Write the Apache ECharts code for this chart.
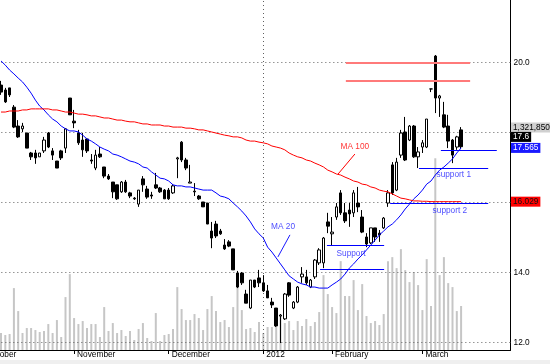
<!DOCTYPE html>
<html><head><meta charset="utf-8">
<script src="https://cdn.jsdelivr.net/npm/echarts@6/dist/echarts.min.js"></script>
<style>html,body{margin:0;padding:0;background:#fff}#c{width:550px;height:364px}</style>
</head><body><div id="c"></div>
<script>
// ---- data ----
// candles: [open, close, low, high]
const ohlc = [
[19.36,19.16,19.08,19.48],[19.22,18.88,18.85,19.28],[19.28,19.08,19.02,19.28],[18.73,18.16,18.13,18.79],[18.19,17.88,17.85,18.36],
[18.11,18.19,18.02,18.28],[17.99,17.56,17.56,17.99],[17.42,17.31,17.22,17.45],[17.42,17.28,17.11,17.51],[17.31,17.42,17.31,17.42],
[17.48,17.79,17.42,17.88],[17.99,17.59,17.56,18.02],[17.48,17.36,17.22,17.56],[17.19,16.99,16.99,17.19],[17.48,17.28,17.22,17.51],
[17.56,18.11,17.42,18.13],[18.99,18.51,18.51,18.99],[18.33,18.28,18.13,18.65],[17.99,17.71,17.65,18.08],[17.79,17.51,17.31,17.99],
[17.82,17.48,17.42,17.85],[17.22,17.19,17.11,17.39],[16.99,17.36,16.93,17.51],[17.39,17.31,17.28,17.59],[17.02,16.76,16.70,17.02],
[16.76,16.68,16.65,16.82],[16.59,16.31,16.13,16.59],[16.51,16.11,16.08,16.51],[16.31,16.59,16.28,16.62],[16.59,16.31,16.28,16.65],
[16.28,16.19,16.13,16.31],[16.13,16.11,16.08,16.16],[15.96,16.36,15.88,16.36],[16.68,16.51,16.31,16.76],[16.39,16.16,16.11,16.48],
[16.22,16.19,16.11,16.31],[16.51,16.42,16.39,16.85],[16.42,16.31,16.28,16.45],[16.36,16.11,16.11,16.39],[16.36,16.11,16.08,16.42],
[16.28,16.48,16.25,16.53],[17.25,17.28,16.70,17.31],[17.73,17.22,17.16,17.76],[17.22,16.99,16.93,17.28],[16.56,16.59,16.56,17.08],
[16.33,16.31,16.19,16.56],[16.19,16.11,16.08,16.22],[16.02,15.88,15.88,16.02],[15.99,15.39,15.39,15.99],[15.19,14.99,14.70,15.45],
[15.39,15.05,14.99,15.48],[15.19,15.11,15.08,15.25],[14.79,14.68,14.65,14.96],[14.88,14.76,14.73,14.93],[14.68,14.08,14.08,14.68],
[13.99,13.59,13.56,14.05],[13.99,13.71,13.65,14.02],[13.39,13.13,13.13,13.51],[12.99,13.79,12.96,13.79],[13.79,13.59,13.56,13.79],
[13.85,13.71,13.59,14.08],[13.71,13.48,13.45,13.93],[13.48,13.28,13.28,13.65],[13.16,13.08,12.99,13.28],[12.99,12.48,12.45,12.99],
[12.76,12.79,11.99,12.82],[12.68,13.39,12.65,13.42],[13.71,13.36,13.31,13.73],[12.99,13.16,12.96,13.19],[13.16,13.59,13.13,13.62],
[13.88,13.96,13.71,14.16],[13.88,13.71,13.65,14.08],[13.59,13.79,13.56,13.82],[13.88,14.36,13.82,14.39],[14.28,14.65,14.22,14.70],
[14.28,14.99,14.13,15.02],[15.45,15.33,15.13,15.71],[15.11,15.16,14.79,15.59],[15.59,15.88,15.51,15.99],[16.28,15.71,15.65,16.36],
[15.71,15.48,15.42,15.99],[15.79,15.68,15.31,15.99],[15.71,16.28,15.59,16.36],[15.99,15.88,15.73,16.45],[15.59,15.16,15.13,15.79],
[15.02,14.82,14.73,15.13],[14.85,15.28,14.82,15.28],[15.28,15.02,14.88,15.28],[15.13,15.08,14.88,15.22],[15.28,15.56,15.25,15.59],
[15.99,16.28,15.88,16.36],[17.08,16.28,16.22,17.16],[16.36,17.16,16.33,17.28],[17.36,17.99,17.28,18.08],[18.02,17.22,17.19,18.45],
[17.79,18.19,17.76,18.22],[18.19,17.31,17.28,18.22],[17.31,17.45,16.99,17.59],[17.59,17.71,17.42,17.79],[17.59,18.39,17.56,18.39],
[19.25,19.25,19.16,19.25],[20.19,18.99,18.56,20.22],[18.99,19.05,18.45,19.08],[18.51,18.16,18.13,18.88],[18.19,17.76,17.56,18.51],
[17.79,17.36,17.13,17.82],[17.59,17.88,17.51,17.91],[18.08,17.60,17.53,18.16]
];
// volume, thousands of shares
const volume = [
510,450,480,1860,1170,510,660,660,600,540,
570,780,510,900,390,1590,2280,960,780,870,
660,780,780,390,1290,570,810,510,600,420,
570,300,630,810,360,270,1110,270,450,480,
630,1890,1230,900,900,1080,960,600,1230,1620,
1170,840,900,690,1290,1890,1200,630,660,540,
840,510,690,690,870,1050,810,870,600,870,
720,930,720,840,1140,2250,1680,1290,1110,2670,
1620,1620,2100,1200,1980,1020,810,870,750,1080,
2670,2790,2460,3030,2400,2040,2340,1950,1200,2730,
1320,5760,2250,2790,2010,1890,1170,1321.85
];
const ma20 = [
20.05,19.93,19.79,19.68,19.56,19.45,19.30,19.13,18.93,18.76,
18.65,18.51,18.39,18.31,18.19,18.11,18.05,18.05,18.02,17.93,
17.82,17.76,17.68,17.59,17.53,17.48,17.39,17.36,17.31,17.25,
17.19,17.16,17.11,17.02,16.99,16.88,16.79,16.70,16.68,16.62,
16.51,16.48,16.48,16.45,16.45,16.42,16.39,16.36,16.36,16.36,
16.28,16.19,16.16,16.11,15.99,15.88,15.76,15.62,15.45,15.25,
15.11,14.99,14.73,14.59,14.42,14.25,14.08,13.91,13.82,13.73,
13.68,13.65,13.59,13.59,13.56,13.56,13.56,13.65,13.73,13.82,
13.96,14.13,14.25,14.39,14.51,14.65,14.79,14.93,15.08,15.19,
15.31,15.39,15.51,15.65,15.82,15.96,16.11,16.22,16.36,16.53,
16.62,16.79,16.93,17.02,17.13,17.25,17.42,17.565
];
const ma100 = [
18.59,18.59,18.62,18.62,18.62,18.65,18.65,18.68,18.68,18.68,
18.68,18.68,18.65,18.65,18.62,18.59,18.59,18.56,18.53,18.53,
18.51,18.48,18.48,18.45,18.42,18.42,18.39,18.36,18.36,18.33,
18.31,18.31,18.28,18.25,18.25,18.22,18.22,18.22,18.19,18.19,
18.16,18.16,18.16,18.13,18.13,18.11,18.08,18.08,18.05,18.02,
17.99,17.96,17.93,17.91,17.88,17.88,17.85,17.79,17.76,17.76,
17.73,17.71,17.68,17.62,17.59,17.56,17.51,17.42,17.36,17.31,
17.28,17.22,17.19,17.13,17.08,17.02,16.93,16.88,16.82,16.79,
16.73,16.68,16.62,16.59,16.53,16.51,16.45,16.42,16.36,16.33,
16.31,16.25,16.19,16.13,16.11,16.08,16.05,16.05,16.04,16.04,
16.03,16.03,16.03,16.03,16.03,16.03,16.03,16.029
];
// month labels and the candle index where each month starts
const monthNames = ['October','November','December','2012','February','March'];
const monthStart = [-4, 17, 39, 61, 77, 98];
const priceTickLabels = [12, 14, 20];
const priceGridLevels = [12, 14, 16, 18, 20];
const yearLineIndex = 61;
// annotation lines: [fromIndex, toIndex, price]
const resistanceLines = [[80.2, 109.1, 20.0], [80.2, 109.1, 19.485]];
const supportLines = [[75.8, 89.1, 14.79], [74.2, 89.1, 14.105], [102.3, 115.3, 17.505], [97.2, 113.3, 16.99], [90.5, 113.3, 15.99]];
// text notes: [text, index, price]
const blueNotes = [['MA 20', 65.6, 15.30], ['Support', 81.4, 14.53], ['support 1', 105.3, 16.79], ['support 2', 104.4, 15.76]];
const redNotes = [['MA 100', 82.3, 17.59]];
// pointer lines: [x1, p1, x2, p2]
const blueCallouts = [[67.2, 15.08, 64.4, 14.45]];
const redCallouts = [[82.3, 17.39, 78.4, 16.82]];

// ---- layout ----
const LEAD = 5, TRAIL = 11, STEP = 4.3;
const N = LEAD + ohlc.length + TRAIL;
const FONT = '"Liberation Sans", Arial, Helvetica, sans-serif';
const FS = 8.3;
const BLUE = '#1a1aff', RED = '#ff0000';

const cats = Array.from({length: N}, (_, k) => 'd' + k);
const monthAt = {};
monthStart.forEach((s, j) => { monthAt[s + LEAD] = monthNames[j]; });
const pad = arr => Array(LEAD).fill('-').concat(arr, Array(TRAIL).fill('-'));

const seg = (x1, y1, x2, y2, style) => [{coord: [x1, y1], lineStyle: style}, {coord: [x2, y2]}];
const noteLines = [];
resistanceLines.forEach(r => noteLines.push(seg(r[0], r[2], r[1], r[2], {color: '#ff7a7a', width: 2, type: 'solid'})));
supportLines.forEach(r => noteLines.push(seg(r[0], r[2], r[1], r[2], {color: '#0000ff', width: 1, type: 'solid'})));
blueCallouts.forEach(c => noteLines.push(seg(c[0], c[1], c[2], c[3], {color: BLUE, width: 1, type: 'solid'})));
redCallouts.forEach(c => noteLines.push(seg(c[0], c[1], c[2], c[3], {color: RED, width: 1, type: 'solid'})));

const notePts = blueNotes.map(n => ({name: n[0], value: [n[1], n[2]], label: {color: BLUE}}))
  .concat(redNotes.map(n => ({name: n[0], value: [n[1], n[2]], label: {color: RED}})));

const dotted = {color: '#606060', width: 1, type: [1, 3]};
const gridMarks = priceGridLevels.map(v => ({yAxis: v}));
gridMarks.push({xAxis: 'd' + (yearLineIndex + LEAD)});

const option = {
  animation: false,
  backgroundColor: '#fff',
  grid: {left: 1 - STEP * (LEAD + 0.5), top: 0, width: N * STEP, height: 350, containLabel: false, outerBoundsMode: 'none'},
  xAxis: [{
    type: 'category', data: cats, boundaryGap: true,
    axisLine: {show: true, onZero: false, lineStyle: {color: '#000', width: 1}},
    axisTick: {show: true, alignWithLabel: true, length: 4, interval: (i) => monthAt[i] !== undefined, lineStyle: {color: '#000'}},
    axisLabel: {show: true, interval: (i) => monthAt[i] !== undefined, formatter: (v, i) => monthAt[i] || '',
      align: 'left', padding: [0, 0, 0, 3], margin: 1, fontSize: FS, fontFamily: FONT, color: '#000'},
    splitLine: {show: false}
  }, {
    type: 'value', min: -LEAD - 0.5, max: N - LEAD - 0.5, show: false,
    axisLine: {onZero: false}
  }],
  yAxis: [{
    type: 'value', position: 'right', min: 11.791, max: 21.791, scale: true,
    axisLine: {show: true, onZero: false, lineStyle: {color: '#000', width: 1}},
    axisTick: {show: false},
    axisLabel: {show: true, customValues: priceTickLabels, formatter: v => v.toFixed(1), margin: 3, fontSize: FS, fontFamily: FONT, color: '#000'},
    splitLine: {show: false}
  }, {
    type: 'value', min: 0, max: 10515, show: false,
    axisLine: {onZero: false}
  }],
  series: [{
    name: 'volume', type: 'bar', xAxisIndex: 0, yAxisIndex: 1, data: pad(volume),
    barWidth: 2, itemStyle: {color: '#c6c6c6'}, z: 1, silent: true
  }, {
    name: 'price', type: 'candlestick', xAxisIndex: 0, yAxisIndex: 0,
    data: ohlc.map((d, i) => ['d' + (i + LEAD), d[0], d[1], d[2], d[3]]),
    encode: {x: 0, y: [1, 2, 3, 4]},
    barWidth: 3,
    itemStyle: {color: '#fff', color0: '#000', borderColor: '#000', borderColor0: '#000', borderWidth: 1},
    z: 3,
    markLine: {silent: true, symbol: ['none', 'none'], label: {show: false}, lineStyle: dotted, data: gridMarks, z: 2}
  }, {
    name: 'MA 20', type: 'line', xAxisIndex: 0, yAxisIndex: 0, data: pad(ma20),
    showSymbol: false, symbol: 'none', lineStyle: {color: '#0000ff', width: 1}, z: 4, silent: true
  }, {
    name: 'MA 100', type: 'line', xAxisIndex: 0, yAxisIndex: 0, data: pad(ma100),
    showSymbol: false, symbol: 'none', lineStyle: {color: RED, width: 1}, z: 4, silent: true
  }, {
    name: 'notes', type: 'scatter', xAxisIndex: 1, yAxisIndex: 0, data: notePts,
    symbolSize: 0, z: 5, silent: true,
    label: {show: true, position: 'inside', formatter: '{b}', fontSize: FS, fontFamily: FONT},
    markLine: {silent: true, symbol: ['none', 'none'], label: {show: false}, data: noteLines, z: 5}
  }]
};

const chart = echarts.init(document.getElementById('c'), null, {renderer: 'canvas'});
chart.setOption(option);

// value tags on the right side
const py = v => chart.convertToPixel({yAxisIndex: 0}, v);
const lastClose = ohlc[ohlc.length - 1][1];
const lastMa20 = ma20[ma20.length - 1];
const lastMa100 = ma100[ma100.length - 1];
const lastVol = Math.round(volume[volume.length - 1] * 1000);
const yBlue = py(lastMa20);
const yBlack = Math.min(py(lastClose), yBlue - 11);
const yGray = yBlack - 9.5;
const yRed = py(lastMa100);
const tag = (txt, y, bg, fg) => ({
  type: 'text', x: 511, y: y, z: 10, silent: true,
  style: {text: txt, fill: fg, backgroundColor: bg, padding: [1, 2, 0, 2], lineHeight: 9,
    font: FS + 'px ' + FONT, verticalAlign: 'middle', align: 'left'}
});
chart.setOption({graphic: [
  {type: 'rect', left: 0, top: 360, shape: {width: 550, height: 4}, style: {fill: '#efefef'}, silent: true},
  tag(lastVol.toLocaleString('en-US'), yGray, '#d0d0d0', '#000'),
  tag(String(lastClose), yBlack, '#000', '#fff'),
  tag(String(lastMa20), yBlue, '#1a1aff', '#fff'),
  tag(String(lastMa100), yRed, '#ff0000', '#111')
]});
</script>
</body></html>
